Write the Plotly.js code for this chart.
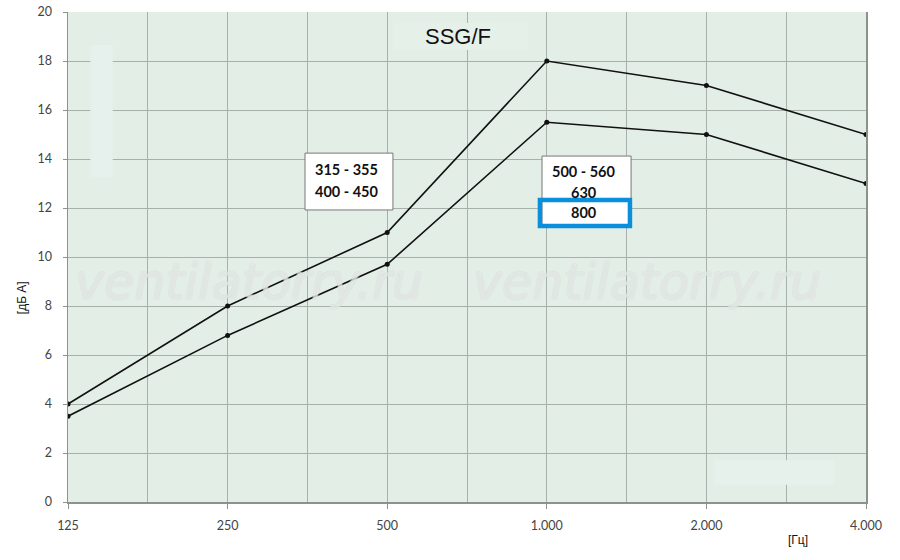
<!DOCTYPE html>
<html>
<head>
<meta charset="utf-8">
<script src="https://cdn.plot.ly/plotly-3.0.1.min.js"></script>
<style>html,body{margin:0;padding:0;background:#fff;}#chart{width:900px;height:560px;}</style>
</head>
<body>
<div id="chart"></div>
<script>
const categories = ['125', '250', '500', '1.000', '2.000', '4.000'];
const upperSeries = [4, 8, 11, 18, 17, 15];
const lowerSeries = [3.5, 6.8, 9.7, 15.5, 15, 13];
const yTicks = [0, 2, 4, 6, 8, 10, 12, 14, 16, 18, 20];
const box1Lines = ['315 - 355', '400 - 450'];
const box2Lines = ['500 - 560', '630', '800'];
const chartTitle = 'SSG/F';
const watermark = 'ventilatorry.ru';
const yLabel = '[дБ А]';
const xLabel = '[Гц]';

const xIdx = categories.map((c, i) => i);
const lineStyle = {color: '#111', width: 1.6};
const markerStyle = {color: '#111', size: 5};

const traces = [
  {x: xIdx, y: upperSeries, mode: 'lines+markers', line: lineStyle, marker: markerStyle, hoverinfo: 'skip'},
  {x: xIdx, y: lowerSeries, mode: 'lines+markers', line: lineStyle, marker: markerStyle, hoverinfo: 'skip'}
];

const boxFont = {family: 'Lato, "Open Sans", sans-serif', size: 14.5, color: '#111', weight: 'bold'};
const annotations = [];
const b1y = [13.59, 12.69];
box1Lines.forEach((t, i) => annotations.push({x: 1.748, y: b1y[i], xref: 'x', yref: 'y', text: '<b>' + t + '</b>', showarrow: false, font: boxFont}));
const b2y = [13.51, 12.65, 11.80];
box2Lines.forEach((t, i) => annotations.push({x: 3.233, y: b2y[i], xref: 'x', yref: 'y', text: '<b>' + t + '</b>', showarrow: false, font: boxFont}));
annotations.push({x: 2.445, y: 19.0, xref: 'x', yref: 'y', text: chartTitle, showarrow: false,
  font: {family: 'Arial, "Liberation Sans", sans-serif', size: 22, color: '#111'}});
[1.134, 3.628].forEach(cx => annotations.push({x: cx, y: 8.94, xref: 'x', yref: 'y', text: '<i>' + watermark + '</i>', showarrow: false,
  font: {family: '"DejaVu Sans", sans-serif', size: 49, color: 'rgba(255,255,255,0.3)',
    shadow: '1px 0 0 #d2d8d3, -1px 0 0 #d2d8d3, 0 1px 0 #d2d8d3, 0 -1px 0 #d2d8d3'}}));
annotations.push({x: -0.0576, y: 0.416, xref: 'paper', yref: 'paper', xanchor: 'center', yanchor: 'middle', text: yLabel, textangle: -90, showarrow: false,
  font: {family: 'Arial, "Liberation Sans", sans-serif', size: 12, color: '#111'}});
annotations.push({x: 0.915, y: -0.0776, xref: 'paper', yref: 'paper', xanchor: 'center', yanchor: 'middle', text: xLabel, showarrow: false,
  font: {family: 'Arial, "Liberation Sans", sans-serif', size: 12, color: '#111'}});

const shapes = [
  {type: 'rect', xref: 'x', yref: 'y', x0: 0.14, x1: 0.28, y0: 13.25, y1: 18.65, fillcolor: '#e6f0ec', line: {width: 0}, layer: 'between'},
  {type: 'rect', xref: 'x', yref: 'y', x0: 4.05, x1: 4.8, y0: 0.7, y1: 1.7, fillcolor: '#e7f1ec', line: {width: 0}, layer: 'between'},
  {type: 'rect', xref: 'x', yref: 'y', x0: 2.04, x1: 2.88, y0: 18.45, y1: 19.55, fillcolor: '#e5f0e9', line: {width: 0}, layer: 'between'},
  {type: 'rect', xref: 'x', yref: 'y', x0: 1.485, x1: 2.036, y0: 11.92, y1: 14.24, fillcolor: '#ffffff', line: {color: '#777', width: 1}, layer: 'above'},
  {type: 'rect', xref: 'x', yref: 'y', x0: 2.970, x1: 3.528, y0: 11.22, y1: 14.12, fillcolor: '#ffffff', line: {color: '#777', width: 1}, layer: 'above'},
  {type: 'rect', xref: 'x', yref: 'y', x0: 2.957, x1: 3.521, y0: 11.27, y1: 12.33, fillcolor: 'rgba(0,0,0,0)', line: {color: '#0a8fdc', width: 4.5}, layer: 'above'}
];

const tickFont = {family: 'Lato, "Open Sans", sans-serif', size: 12.5, color: '#444'};
const layout = {
  width: 900, height: 560,
  margin: {l: 68, r: 34, t: 12, b: 58},
  paper_bgcolor: '#ffffff',
  plot_bgcolor: '#e3efe6',
  showlegend: false,
  xaxis: {
    range: [0, 5], tickvals: xIdx, ticktext: categories, tickfont: tickFont,
    showgrid: true, gridcolor: '#a7b1a9', gridwidth: 1,
    minor: {dtick: 0.5, tick0: 0, showgrid: true, gridcolor: '#a7b1a9', gridwidth: 1, ticks: ''},
    ticks: 'outside', ticklen: 5, tickcolor: '#8a948c', ticklabelstandoff: 6,
    showline: true, linecolor: '#8a948c', linewidth: 1.5, zeroline: false, fixedrange: true
  },
  yaxis: {
    range: [0, 20], tickvals: yTicks, tickfont: tickFont,
    showgrid: true, gridcolor: '#a7b1a9', gridwidth: 1,
    ticks: 'outside', ticklen: 4, tickcolor: '#8a948c', ticklabelstandoff: 8,
    showline: true, linecolor: '#8a948c', linewidth: 1.5, mirror: true, zeroline: false, fixedrange: true
  },
  annotations: annotations,
  shapes: shapes
};

Plotly.newPlot('chart', traces, layout, {displayModeBar: false, staticPlot: true});
</script>
</body>
</html>
